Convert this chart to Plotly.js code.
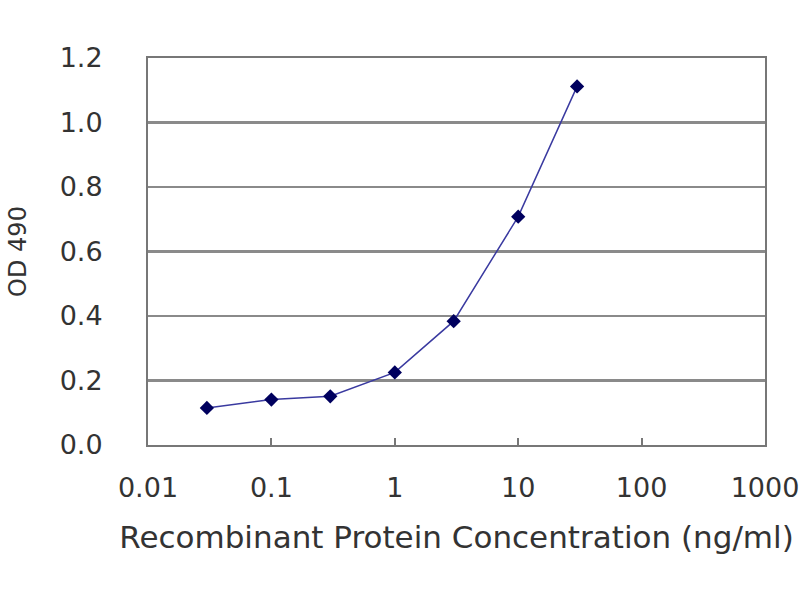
<!DOCTYPE html>
<html>
<head>
<meta charset="utf-8">
<script src="https://cdn.plot.ly/plotly-3.0.1.min.js"></script>
<style>html,body{margin:0;padding:0;background:#fff;}#chart{width:800px;height:600px;}</style>
</head>
<body>
<div id="chart"></div>
<script>
const concentration = [0.03, 0.1, 0.3, 1, 3, 10, 30];
const od490 = [0.115, 0.141, 0.151, 0.225, 0.384, 0.708, 1.112];
const xTickVals = [0.01, 0.1, 1, 10, 100, 1000];
const xTickText = ["0.01", "0.1", "1", "10", "100", "1000"];
const yTickVals = [0, 0.2, 0.4, 0.6, 0.8, 1.0, 1.2];
const yTickText = ["0.0", "0.2", "0.4", "0.6", "0.8", "1.0", "1.2"];

const trace = {
  x: concentration,
  y: od490,
  type: "scatter",
  mode: "lines+markers",
  line: {color: "#3a3aa0", width: 1.5},
  marker: {symbol: "diamond", size: 11, color: "#00005e"},
  cliponaxis: false,
  hoverinfo: "none"
};

const font = {family: "DejaVu Sans, Liberation Sans, Arial, sans-serif", size: 27, color: "#333333"};

const layout = {
  width: 800, height: 600,
  margin: {l: 148, r: 35, t: 58, b: 155},
  paper_bgcolor: "#ffffff",
  plot_bgcolor: "#ffffff",
  showlegend: false,
  font: font,
  xaxis: {
    type: "log",
    range: [-2, 3],
    tickvals: xTickVals,
    ticktext: xTickText,
    tickfont: font,
    ticks: "inside",
    ticklen: 7,
    tickwidth: 2,
    tickcolor: "#777777",
    ticklabelstandoff: 18,
    showgrid: false,
    zeroline: false,
    showline: true,
    linecolor: "#777777",
    linewidth: 2,
    mirror: true,
    title: {text: "Recombinant Protein Concentration (ng/ml)", font: {family: font.family, size: 31, color: "#333333"}, standoff: 24}
  },
  yaxis: {
    range: [0, 1.2],
    tickvals: yTickVals,
    ticktext: yTickText,
    tickfont: font,
    ticks: "",
    ticklabelstandoff: 38,
    showgrid: true,
    gridcolor: "#8a8a8a",
    gridwidth: 2.5,
    zeroline: false,
    showline: true,
    linecolor: "#777777",
    linewidth: 2,
    mirror: true,
    title: {text: "OD 490", font: {family: font.family, size: 24, color: "#333333"}, standoff: 26}
  }
};

Plotly.newPlot("chart", [trace], layout, {staticPlot: true, displayModeBar: false});
</script>
</body>
</html>
